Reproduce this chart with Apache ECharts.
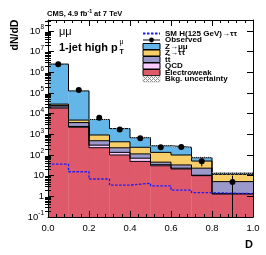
<!DOCTYPE html>
<html><head><meta charset="utf-8">
<script src="https://cdn.jsdelivr.net/npm/echarts@6/dist/echarts.min.js"></script>
<style>html,body{margin:0;padding:0;background:#fff}#c{width:266px;height:255px}</style>
</head><body><div id="c"></div>
<script>
// ---- data (dN/dD per bin) ----
const binEdges = [0, 0.1, 0.2, 0.3, 0.4, 0.5, 0.6, 0.7, 0.8, 1.0];
const ewk      = [18500, 2200, 225, 100, 49, 30, 21, 10, 1.3];
const qcd      = [2500, 200, 75, 34, 21, 4, 2, 0.5, 0.05];
const ttbar    = [4000, 1300, 190, 89, 43, 11, 10, 12.5, 3.8];
const ztt      = [4000, 1200, 440, 213, 123, 89, 67, 28, 6.4];
const zmm      = [2470000, 121000, 4270, 1460, 454, 146, 135, 23, 1.5];
const signal   = [36, 15.5, 6.9, 3.5, 4.3, 3.2, 2.0, 1.5, 1.35];
const observed = [2450000, 140000, 6300, 1700, 650, 235, 245, 50, 5];
const obsErr   = [4950, 1180, 250, 130, 81, 48, 50, 22, 5];
const bkgUncRel = [0.05, 0.05, 0.06, 0.07, 0.08, 0.09, 0.10, 0.12, 0.15];
const xTickLabels = ['0.0', '0.2', '0.4', '0.6', '0.8', '1.0'];
const yMajorTicks = [0.1, 1, 10, 1e2, 1e3, 1e4, 1e5, 1e6, 1e7, 1e8];

const FONT = "'Liberation Sans', Arial, Helvetica, sans-serif";
const Y_MIN = 0.1, Y_MAX = 3.4e8;

const colors = {
  zmm: '#64b6e8', ztt: '#f8ce68', ttbar: '#9b98cc', qcd: '#fccbff', ewk: '#de5a6a'
};

// minor ticks 2..9 x 10^n
const yMinorTicks = [];
for (let e = -1; e <= 8; e++) for (let m = 2; m <= 9; m++) {
  const v = m * Math.pow(10, e); if (v < Y_MAX) yMinorTicks.push(v);
}

// hatch pattern
const pc = document.createElement('canvas'); pc.width = 4; pc.height = 4;
const pg = pc.getContext('2d');
pg.fillStyle = '#8a8a8a';
pg.fillRect(0, 0, 1, 1); pg.fillRect(2, 2, 1, 1); pg.fillRect(1, 1, 1, 1); pg.fillRect(3, 3, 1, 1);
pg.fillRect(3, 1, 1, 1); pg.fillRect(1, 3, 1, 1);
const hatch = { image: pc, repeat: 'repeat' };

// stacking
const comps = [
  { key: 'ewk', name: 'Electroweak', vals: ewk },
  { key: 'qcd', name: 'QCD', vals: qcd },
  { key: 'ttbar', name: 'tt\u0304', vals: ttbar },
  { key: 'ztt', name: 'Z\u2192\u03c4\u03c4', vals: ztt },
  { key: 'zmm', name: 'Z\u2192\u03bc\u03bc', vals: zmm }
];
const nb = binEdges.length - 1;
let cumPrev = new Array(nb).fill(null);
const series = [];
const outlines = [];
comps.forEach((c) => {
  const cum = c.vals.map((v, i) => (cumPrev[i] === null ? 0 : cumPrev[i]) + v);
  const data = [];
  for (let i = 0; i < nb; i++) {
    data.push([binEdges[i], binEdges[i + 1], cumPrev[i] === null ? Y_MIN : cumPrev[i], cum[i]]);
  }
  const col = colors[c.key];
  series.push({
    type: 'custom', name: c.name, xAxisIndex: 0, yAxisIndex: 0, z: 2,
    itemStyle: { color: col }, encode: { x: [0, 1], y: [2, 3] }, clip: true,
    data: data,
    renderItem: function (params, api) {
      const p0 = api.coord([api.value(0), api.value(3)]);
      const p1 = api.coord([api.value(1), api.value(2)]);
      return { type: 'rect', shape: { x: p0[0], y: p0[1], width: p1[0] - p0[0], height: p1[1] - p0[1] },
               style: { fill: col, stroke: col, lineWidth: 0.3 } };
    }
  });
  const ld = cum.map((v, i) => [binEdges[i], v]);
  ld.push([binEdges[nb], cum[nb - 1]]);
  outlines.push({
    type: 'line', step: 'end', data: ld, symbol: 'none', z: 3, silent: true,
    lineStyle: { color: '#000', width: 1 }, xAxisIndex: 0, yAxisIndex: 0
  });
  cumPrev = cum;
});
const total = cumPrev;
series.push(...outlines);

// bkg uncertainty
series.push({
  type: 'custom', name: 'Bkg. uncertainty', z: 4, clip: true,
  itemStyle: { color: hatch }, encode: { x: [0, 1], y: [2, 3] },
  data: total.map((t, i) => [binEdges[i], binEdges[i + 1], t * (1 - bkgUncRel[i]), t * (1 + bkgUncRel[i])]),
  renderItem: function (params, api) {
    const p0 = api.coord([api.value(0), api.value(3)]);
    const p1 = api.coord([api.value(1), api.value(2)]);
    return { type: 'rect', shape: { x: p0[0], y: p0[1], width: p1[0] - p0[0], height: p1[1] - p0[1] },
             style: { fill: hatch } };
  }
});

// signal
const sd = signal.map((v, i) => [binEdges[i], v]);
sd.push([binEdges[nb], signal[nb - 1]]);
series.push({
  type: 'line', name: 'SM H(125 GeV)\u2192\u03c4\u03c4', step: 'end', data: sd, symbol: 'none', z: 5,
  lineStyle: { color: '#1a1aff', width: 1.3, type: [2.5, 1.5] }, itemStyle: { color: '#1a1aff' }
});

// observed error bars
series.push({
  type: 'custom', z: 6, clip: true, encode: { x: 0, y: [1, 2] }, silent: true,
  data: observed.map((o, i) => [(binEdges[i] + binEdges[i + 1]) / 2, Math.max(o - obsErr[i], Y_MIN), o + obsErr[i]]),
  renderItem: function (params, api) {
    const a = api.coord([api.value(0), api.value(1)]);
    const b = api.coord([api.value(0), api.value(2)]);
    return { type: 'line', shape: { x1: a[0], y1: a[1], x2: b[0], y2: b[1] }, style: { stroke: '#000', lineWidth: 1 } };
  }
});
series.push({
  type: 'line', name: 'Observed', z: 7,
  data: observed.map((o, i) => [(binEdges[i] + binEdges[i + 1]) / 2, o]),
  symbol: 'circle', symbolSize: 6, itemStyle: { color: '#000' },
  lineStyle: { opacity: 0 }
});

function yFmt(v) {
  const e = Math.round(Math.log10(v));
  if (e === 0) return '1';
  if (e === 1) return '10';
  return '10{sup|' + e + '}';
}

const baseAxisY = {
  type: 'log', min: Y_MIN, max: Y_MAX, logBase: 10, splitLine: { show: false }, minorTick: { show: false }
};

const option = {
  animation: false,
  backgroundColor: '#fff',
  grid: { left: 48, right: 13, top: 20, bottom: 38, containLabel: false },
  xAxis: [
    { type: 'value', min: 0, max: 1, interval: 0.2, position: 'bottom', z: 10,
      axisLine: { show: true, onZero: false, lineStyle: { color: '#000', width: 1 } },
      axisTick: { show: true, inside: true, length: 6, lineStyle: { color: '#000' } },
      minorTick: { show: true, splitNumber: 5, length: 3, lineStyle: { color: '#000' } },
      splitLine: { show: false }, minorSplitLine: { show: false },
      axisLabel: { margin: 6, fontSize: 9.5, fontFamily: FONT, color: '#000',
        formatter: (v) => xTickLabels[Math.round(v / 0.2)] } },
    { type: 'value', min: 0, max: 1, interval: 0.2, position: 'top', z: 10,
      axisLine: { show: true, onZero: false, lineStyle: { color: '#000', width: 1 } },
      axisTick: { show: true, inside: true, length: 6, lineStyle: { color: '#000' } },
      minorTick: { show: true, splitNumber: 5, length: 3, lineStyle: { color: '#000' } },
      splitLine: { show: false }, axisLabel: { show: false } }
  ],
  yAxis: [
    Object.assign({}, baseAxisY, { position: 'left', z: 10,
      axisLine: { show: true, onZero: false, lineStyle: { color: '#000', width: 1 } },
      axisTick: { show: true, inside: true, length: 6, customValues: yMajorTicks, lineStyle: { color: '#000' } },
      axisLabel: { show: true, customValues: yMajorTicks, formatter: yFmt, margin: 4, fontSize: 9.5,
        fontFamily: FONT, color: '#000', lineHeight: 14,
        rich: { sup: { fontSize: 6.5, fontFamily: FONT, color: '#000', verticalAlign: 'top', lineHeight: 8 } } } }),
    Object.assign({}, baseAxisY, { position: 'right', z: 10,
      axisLine: { show: true, onZero: false, lineStyle: { color: '#000', width: 1 } },
      axisTick: { show: true, inside: true, length: 6, customValues: yMajorTicks, lineStyle: { color: '#000' } },
      axisLabel: { show: false } }),
    Object.assign({}, baseAxisY, { position: 'left', z: 10,
      axisLine: { show: false },
      axisTick: { show: true, inside: true, length: 3, customValues: yMinorTicks, lineStyle: { color: '#000' } },
      axisLabel: { show: false } }),
    Object.assign({}, baseAxisY, { position: 'right', z: 10,
      axisLine: { show: false },
      axisTick: { show: true, inside: true, length: 3, customValues: yMinorTicks, lineStyle: { color: '#000' } },
      axisLabel: { show: false } })
  ],
  legend: {
    orient: 'vertical', left: 142, top: 29.5, padding: 0, itemWidth: 17, itemHeight: 6, itemGap: -1.5,
    selectedMode: false,
    textStyle: { fontSize: 8, fontWeight: 'bold', fontFamily: FONT, color: '#000', lineHeight: 8 },
    data: [
      { name: 'SM H(125 GeV)\u2192\u03c4\u03c4', itemStyle: { opacity: 0 } },
      { name: 'Observed', lineStyle: { opacity: 1, width: 1, color: '#000' } },
      { name: 'Z\u2192\u03bc\u03bc', icon: 'rect', itemStyle: { color: colors.zmm, borderColor: '#000', borderWidth: 1 } },
      { name: 'Z\u2192\u03c4\u03c4', icon: 'rect', itemStyle: { color: colors.ztt, borderColor: '#000', borderWidth: 1 } },
      { name: 'tt\u0304', icon: 'rect', itemStyle: { color: colors.ttbar, borderColor: '#000', borderWidth: 1 } },
      { name: 'QCD', icon: 'rect', itemStyle: { color: colors.qcd, borderColor: '#000', borderWidth: 1 } },
      { name: 'Electroweak', icon: 'rect', itemStyle: { color: colors.ewk, borderColor: '#000', borderWidth: 1 } },
      { name: 'Bkg. uncertainty', icon: 'rect', itemStyle: { color: hatch, borderColor: '#aaa', borderWidth: 0.5 } }
    ]
  },
  graphic: [
    { type: 'text', x: 47, y: 14, z: 20, style: { text: 'CMS, 4.9 fb{sup|-1} at 7 TeV', fill: '#000',
        font: 'bold 7.5px ' + FONT, textVerticalAlign: 'middle', lineHeight: 10,
        rich: { sup: { fontSize: 5.2, fontWeight: 'bold', fontFamily: FONT, verticalAlign: 'top', lineHeight: 6 } } } },
    { type: 'text', x: 59, y: 32, z: 20, style: { text: '\u03bc\u03bc', fill: '#000', font: '11px ' + FONT, textVerticalAlign: 'middle' } },
    { type: 'text', x: 59, y: 48, z: 20, style: { text: '1-jet high p', fill: '#000', font: 'bold 11px ' + FONT, textVerticalAlign: 'middle' } },
    { type: 'text', x: 119.5, y: 42.5, z: 20, style: { text: '\u03bc', fill: '#000', font: '7px ' + FONT, textVerticalAlign: 'middle' } },
    { type: 'text', x: 119.5, y: 52, z: 20, style: { text: 'T', fill: '#000', font: 'bold 7px ' + FONT, textVerticalAlign: 'middle' } },
    { type: 'text', x: 15, y: 35, rotation: Math.PI / 2, z: 20, style: { text: 'dN/dD', fill: '#000', font: 'bold 10.5px ' + FONT, textAlign: 'center', textVerticalAlign: 'middle' } },
    { type: 'text', x: 249, y: 245, z: 20, style: { text: 'D', fill: '#000', font: 'bold 11px ' + FONT, textAlign: 'center', textVerticalAlign: 'middle' } }
  ],
  series: series
};

const chart = echarts.init(document.getElementById('c'), null, { renderer: 'canvas' });
chart.setOption(option);
</script>
</body></html>
